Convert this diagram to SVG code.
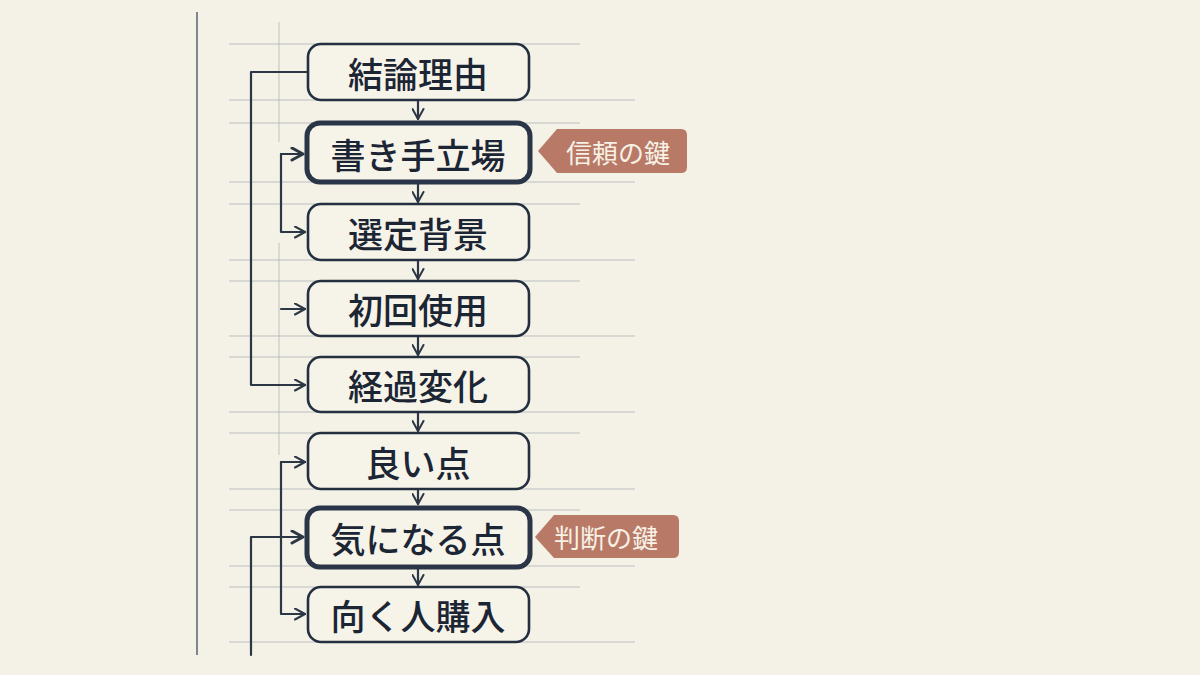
<svg xmlns="http://www.w3.org/2000/svg" width="1200" height="675" viewBox="0 0 1200 675">
<defs>
<style>
.bg{fill:#f4f1e6}
.rule{stroke:#a6abb3;stroke-width:1;opacity:.7}
.vrule{stroke:#4a5566;stroke-width:1.6;opacity:.85}
.vfaint{stroke:#a6abb3;stroke-width:1;opacity:.65}
.box{fill:#f6f3e9;stroke:#24303f;stroke-width:2.6}
.bold{fill:#f6f3e9;stroke:#2a3647;stroke-width:5}
.lbl{font-family:"Noto Sans CJK JP","Noto Sans",sans-serif;font-size:35px;font-weight:500;fill:#1c2533;text-anchor:middle;dominant-baseline:central}
.conn{fill:none;stroke:#2c3746;stroke-width:2.2;stroke-linecap:round;stroke-linejoin:round}
.tag{fill:#b87a67}
.tagt{font-family:"Noto Sans CJK JP","Noto Sans",sans-serif;font-size:26px;fill:#f7f1e6;dominant-baseline:central}
</style>
<marker id="ah" viewBox="0 0 13 13" refX="12" refY="6.5" markerWidth="13" markerHeight="13" markerUnits="userSpaceOnUse" orient="auto">
<path d="M2,1 L12,6.5 L2,12" fill="none" stroke="#2c3746" stroke-width="2" stroke-linecap="round" stroke-linejoin="round"/>
</marker>
<marker id="ahb" viewBox="0 0 15 15" refX="13" refY="7.5" markerWidth="15" markerHeight="15" markerUnits="userSpaceOnUse" orient="auto">
<path d="M2,1.5 L13,7.5 L2,13.5" fill="none" stroke="#2c3746" stroke-width="3" stroke-linecap="round" stroke-linejoin="round"/>
</marker>
</defs>
<rect class="bg" x="0" y="0" width="1200" height="675"/>
<g id="paper">
<line class="vrule" x1="197" y1="12" x2="197" y2="655"/>
<line class="vfaint" x1="279" y1="22" x2="279" y2="142"/>
<line class="vfaint" x1="279" y1="243" x2="279" y2="455"/>
<line class="rule" x1="229" y1="44" x2="580" y2="44"/>
<line class="rule" x1="229" y1="100" x2="635" y2="100"/>
<line class="rule" x1="229" y1="123" x2="580" y2="123"/>
<line class="rule" x1="229" y1="182" x2="635" y2="182"/>
<line class="rule" x1="229" y1="204" x2="580" y2="204"/>
<line class="rule" x1="229" y1="260" x2="635" y2="260"/>
<line class="rule" x1="229" y1="281" x2="580" y2="281"/>
<line class="rule" x1="229" y1="336" x2="635" y2="336"/>
<line class="rule" x1="229" y1="357" x2="580" y2="357"/>
<line class="rule" x1="229" y1="412" x2="635" y2="412"/>
<line class="rule" x1="229" y1="433" x2="580" y2="433"/>
<line class="rule" x1="229" y1="489" x2="635" y2="489"/>
<line class="rule" x1="229" y1="510" x2="580" y2="510"/>
<line class="rule" x1="229" y1="566" x2="635" y2="566"/>
<line class="rule" x1="229" y1="587" x2="580" y2="587"/>
<line class="rule" x1="229" y1="642" x2="635" y2="642"/>
</g>
<g id="connectors">
<line class="conn" x1="418" y1="100" x2="418" y2="119" marker-end="url(#ah)"/>
<line class="conn" x1="418" y1="184" x2="418" y2="202" marker-end="url(#ah)"/>
<line class="conn" x1="418" y1="260" x2="418" y2="279" marker-end="url(#ah)"/>
<line class="conn" x1="418" y1="336" x2="418" y2="355" marker-end="url(#ah)"/>
<line class="conn" x1="418" y1="412" x2="418" y2="431" marker-end="url(#ah)"/>
<line class="conn" x1="418" y1="489" x2="418" y2="504" marker-end="url(#ah)"/>
<line class="conn" x1="418" y1="569" x2="418" y2="585" marker-end="url(#ah)"/>
<path class="conn" d="M307,72 H251 V385 H305" marker-end="url(#ah)"/>
<path class="conn" d="M303,154 H281 V232 H305" marker-end="url(#ah)"/>
<path class="conn" d="M281,154 H303" stroke-width="3" marker-end="url(#ahb)"/>
<line class="conn" x1="281" y1="309" x2="305" y2="309" marker-end="url(#ah)"/>
<path class="conn" d="M305,462 H281 V614 H305" marker-end="url(#ah)"/>
<line class="conn" x1="281" y1="462" x2="305" y2="462" marker-end="url(#ah)"/>
<path class="conn" d="M251,655 V537 H303" marker-end="url(#ahb)"/>
</g>
<g id="n1"><rect class="box" x="308" y="44" width="221" height="56" rx="13"/><text class="lbl" x="418" y="72">結論理由</text></g>
<g id="n2"><rect class="bold" x="307" y="123" width="223" height="59" rx="13"/><text class="lbl" x="418" y="153">書き手立場</text></g>
<g id="n3"><rect class="box" x="308" y="204" width="221" height="56" rx="13"/><text class="lbl" x="418" y="232">選定背景</text></g>
<g id="n4"><rect class="box" x="308" y="281" width="221" height="55" rx="13"/><text class="lbl" x="418" y="308">初回使用</text></g>
<g id="n5"><rect class="box" x="308" y="357" width="221" height="55" rx="13"/><text class="lbl" x="418" y="384">経過変化</text></g>
<g id="n6"><rect class="box" x="308" y="433" width="221" height="56" rx="13"/><text class="lbl" x="418" y="461">良い点</text></g>
<g id="n7"><rect class="bold" x="307" y="508" width="223" height="59" rx="13"/><text class="lbl" x="418" y="537">気になる点</text></g>
<g id="n8"><rect class="box" x="308" y="587" width="221" height="55" rx="13"/><text class="lbl" x="418" y="614">向く人購入</text></g>
<g id="tag1"><path class="tag" d="M538,151 L557,129 H681 Q687,129 687,135 V167 Q687,173 681,173 H557 Z"/><text class="tagt" x="566" y="151">信頼の鍵</text></g>
<g id="tag2"><path class="tag" d="M535,537 L554,515 H673 Q679,515 679,521 V552 Q679,558 673,558 H554 Z"/><text class="tagt" x="554" y="536">判断の鍵</text></g>
</svg>
